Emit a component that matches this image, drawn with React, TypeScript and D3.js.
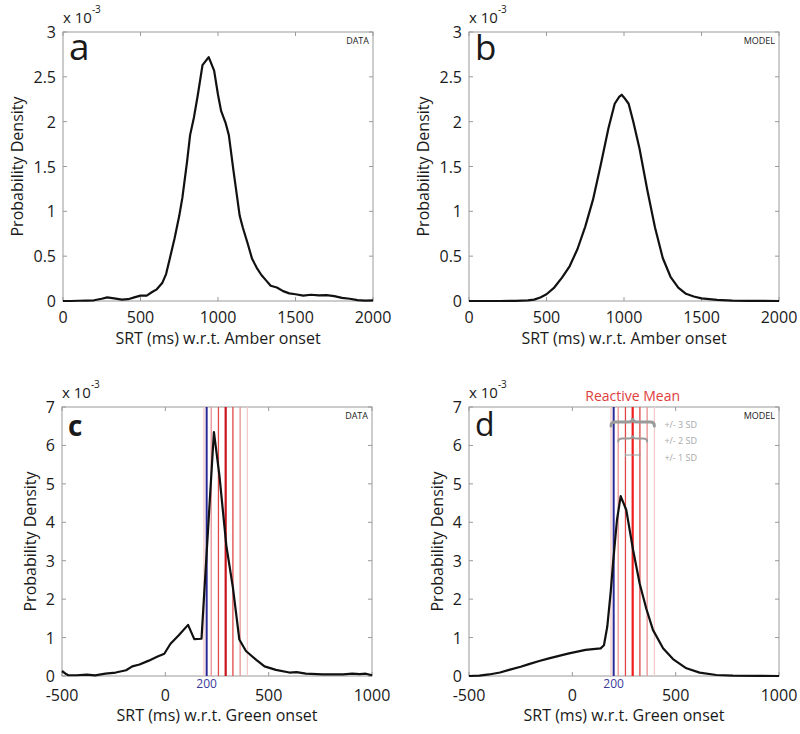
import React from "react";
import * as d3 from "d3";

// ---------- DATA ----------
// Panel a (DATA, amber onset) – SRT ms / density ×1e-3
const aX = [0, 50, 100, 150, 200, 250, 285, 330, 380, 420, 460, 500, 540, 575, 605, 640, 665, 690, 720, 750, 770, 800, 820, 845, 870, 900, 940, 975, 1000, 1020, 1050, 1070, 1100, 1140, 1160, 1190, 1220, 1250, 1280, 1310, 1340, 1380, 1420, 1460, 1500, 1550, 1600, 1650, 1700, 1750, 1800, 1850, 1900, 1950, 2000];
const aY = [0, 0, 0.003, 0.005, 0.008, 0.025, 0.04, 0.03, 0.015, 0.02, 0.04, 0.06, 0.06, 0.1, 0.13, 0.2, 0.3, 0.48, 0.7, 0.95, 1.15, 1.55, 1.85, 2.05, 2.3, 2.63, 2.72, 2.57, 2.3, 2.12, 1.98, 1.85, 1.45, 0.95, 0.82, 0.65, 0.47, 0.37, 0.29, 0.23, 0.17, 0.15, 0.11, 0.085, 0.075, 0.06, 0.07, 0.062, 0.065, 0.055, 0.035, 0.025, 0.01, 0.005, 0.008];

// Panel b (MODEL, amber onset)
const bX = [0, 100, 200, 300, 380, 420, 460, 500, 550, 600, 650, 700, 750, 800, 850, 900, 940, 970, 985, 1000, 1030, 1060, 1100, 1150, 1200, 1250, 1300, 1350, 1400, 1450, 1500, 1600, 1700, 1800, 1900, 2000];
const bY = [0, 0, 0, 0.002, 0.006, 0.015, 0.04, 0.075, 0.15, 0.26, 0.39, 0.58, 0.83, 1.13, 1.52, 1.93, 2.2, 2.28, 2.3, 2.27, 2.2, 2.0, 1.7, 1.24, 0.82, 0.48, 0.27, 0.15, 0.08, 0.05, 0.03, 0.012, 0.005, 0.002, 0.001, 0];

// Panel c (DATA, green onset)
const cX = [-500, -480, -470, -430, -380, -340, -290, -240, -190, -160, -125, -80, -40, -5, 25, 65, 110, 140, 175, 235, 262, 295, 327, 358, 390, 440, 480, 535, 600, 635, 680, 760, 860, 905, 940, 970, 1000];
const cY = [0.13, 0.05, 0.02, 0.02, 0.035, 0.015, 0.06, 0.09, 0.15, 0.25, 0.3, 0.4, 0.5, 0.58, 0.84, 1.06, 1.33, 0.96, 0.97, 6.35, 5.2, 3.4, 2.3, 0.95, 0.65, 0.42, 0.25, 0.16, 0.09, 0.1, 0.06, 0.04, 0.04, 0.06, 0.05, 0.06, 0.02];

// Panel d (MODEL, green onset)
const dX = [-500, -450, -403, -350, -306, -250, -210, -160, -113, -60, -16, 30, 64, 100, 137, 153, 169, 185, 198, 216, 234, 261, 294, 326, 358, 390, 439, 487, 552, 616, 697, 777, 900, 1000];
const dY = [0, 0.01, 0.04, 0.09, 0.16, 0.24, 0.31, 0.39, 0.46, 0.53, 0.59, 0.64, 0.68, 0.7, 0.72, 0.8, 1.28, 2.15, 3.0, 4.06, 4.68, 4.32, 3.28, 2.4, 1.75, 1.2, 0.72, 0.44, 0.2, 0.087, 0.026, 0.009, 0.002, 0];

const amberTicksX = [0, 500, 1000, 1500, 2000];
const amberTicksY = [0, 0.5, 1, 1.5, 2, 2.5, 3];
const greenTicksX = [-500, 0, 500, 1000];
const greenTicksY = [0, 1, 2, 3, 4, 5, 6, 7];

const reactiveMean = 292;
const reactiveSD = 35;
const blueLine = 200;
const sdLevels = [-3, -2, -1, 0, 1, 2, 3];
const braceLevels = [3, 2, 1];

const FONT = "'Open Sans', 'Noto Sans', sans-serif";

type PanelProps = {
  letter: string;
  letterSize: number;
  letterWeight?: number;
  x0: number;
  y0: number;
  w: number;
  h: number;
  xs: number[];
  ys: number[];
  xDomain: [number, number];
  yDomain: [number, number];
  xTicks: number[];
  yTicks: number[];
  xLabel: string;
  tag: string;
  yLabelOff: number;
  tickOff: number;
  xLabelOff: number;
  markers?: boolean;
  braces?: boolean;
  meanColor?: string;
};

function bracePath(x1: number, x2: number, y: number, h: number) {
  const xm = (x1 + x2) / 2;
  const r = Math.min(4, (x2 - x1) / 6);
  return `M${x1},${y + h} Q${x1},${y} ${x1 + r},${y} L${xm - r},${y} Q${xm},${y} ${xm},${y - h} Q${xm},${y} ${xm + r},${y} L${x2 - r},${y} Q${x2},${y} ${x2},${y + h}`;
}

function Panel(p: PanelProps) {
  const x = d3.scaleLinear().domain(p.xDomain).range([p.x0, p.x0 + p.w]);
  const y = d3.scaleLinear().domain(p.yDomain).range([p.y0 + p.h, p.y0]);
  const pts = p.xs.map((v, i) => [v, p.ys[i]] as [number, number]);
  const line = d3.line<[number, number]>().x((d) => x(d[0])).y((d) => y(d[1]));
  const tl = 4;
  const axisGray = "#9a9a9a";
  const sdColor = (k: number) => {
    const a = Math.abs(k);
    if (a === 0) return p.meanColor || "#d41a1a";
    if (a === 1) return "#e04848";
    if (a === 2) return "#ea9090";
    return "#f4caca";
  };
  return (
    <g fontFamily={FONT}>
      {/* box */}
      <rect x={p.x0} y={p.y0} width={p.w} height={p.h} fill="none" stroke={axisGray} strokeWidth={1} />
      {p.xTicks.map((t) => (
        <g key={"xt" + t}>
          <line x1={x(t)} x2={x(t)} y1={p.y0 + p.h} y2={p.y0 + p.h - tl} stroke={axisGray} />
          <line x1={x(t)} x2={x(t)} y1={p.y0} y2={p.y0 + tl} stroke={axisGray} />
          <text x={x(t)} y={p.y0 + p.h + p.tickOff} textAnchor="middle" dominantBaseline="central" fontSize={16} fill="#1a1a1a">
            {t}
          </text>
        </g>
      ))}
      {p.yTicks.map((t) => (
        <g key={"yt" + t}>
          <line x1={p.x0} x2={p.x0 + tl} y1={y(t)} y2={y(t)} stroke={axisGray} />
          <line x1={p.x0 + p.w} x2={p.x0 + p.w - tl} y1={y(t)} y2={y(t)} stroke={axisGray} />
          <text x={p.x0 - 7} y={y(t)} textAnchor="end" dominantBaseline="central" fontSize={16} fill="#1a1a1a">
            {t}
          </text>
        </g>
      ))}
      {/* exponent */}
      <text x={p.x0} y={p.y0 - 9} fontSize={15} fill="#1a1a1a">
        x 10
        <tspan dy={-10} fontSize={10}>-3</tspan>
      </text>
      {/* axis labels */}
      <text
        transform={`translate(${p.x0 - p.yLabelOff},${p.y0 + p.h / 2}) rotate(-90)`}
        textAnchor="middle"
        dominantBaseline="central"
        fontSize={16}
        fill="#1a1a1a"
      >
        Probability Density
      </text>
      <text x={p.x0 + p.w / 2} y={p.y0 + p.h + p.xLabelOff} textAnchor="middle" dominantBaseline="central" fontSize={16} fill="#1a1a1a">
        {p.xLabel}
      </text>
      {/* letter and tag */}
      <text x={p.x0 + 6} y={p.y0 + (p.letter === "a" || p.letter === "b" ? 28 : 29)} fontSize={p.letterSize} fontWeight={p.letterWeight || 400} fill="#1a1a1a">
        {p.letter}
      </text>
      <text x={p.x0 + p.w - 4} y={p.y0 + 12} textAnchor="end" fontSize={9} fill="#222">
        {p.tag}
      </text>
      {/* reactive markers */}
      {p.markers && (
        <g>
          {sdLevels
            .slice()
            .sort((a, b) => Math.abs(b) - Math.abs(a))
            .map((k) => (
              <line
                key={"sd" + k}
                x1={x(reactiveMean + k * reactiveSD)}
                x2={x(reactiveMean + k * reactiveSD)}
                y1={p.y0}
                y2={p.y0 + p.h}
                stroke={sdColor(k)}
                strokeWidth={k === 0 ? 2.2 : 1.3}
              />
            ))}
          <line x1={x(blueLine)} x2={x(blueLine)} y1={p.y0} y2={p.y0 + p.h} stroke="#2a2a96" strokeWidth={2} />
          <text x={x(blueLine)} y={p.y0 + p.h + 7} textAnchor="middle" dominantBaseline="central" fontSize={12} fill="#3a3a9a">
            {blueLine}
          </text>
        </g>
      )}
      {p.braces && (
        <g>
          <text x={x(reactiveMean)} y={p.y0 - 6} textAnchor="middle" fontSize={14} fill="#e03c3c">
            Reactive Mean
          </text>
          {braceLevels.map((k, i) => {
            const x1 = x(reactiveMean - k * reactiveSD);
            const x2 = x(reactiveMean + k * reactiveSD);
            const yy = p.y0 + 15 + i * 16.5;
            const textX = x(reactiveMean + 3 * reactiveSD) + 10;
            return (
              <g key={"br" + k}>
                {k > 1 ? (
                  <path d={bracePath(x1, x2, yy, k === 3 ? 4 : 3)} fill="none" stroke="#9a9a9a" strokeWidth={k === 3 ? 3 : 2} strokeLinecap="round" />
                ) : (
                  <g stroke="#9a9a9a" strokeWidth={1}>
                    <line x1={x1} x2={x2} y1={yy} y2={yy} />
                    <line x1={x1} x2={x1} y1={yy - 2} y2={yy + 2} />
                    <line x1={x2} x2={x2} y1={yy - 2} y2={yy + 2} />
                  </g>
                )}
                <text x={textX} y={yy + 2} dominantBaseline="central" fontSize={9} fill="#a8a8a8">
                  {`+/- ${k} SD`}
                </text>
              </g>
            );
          })}
        </g>
      )}
      {/* curve */}
      <path d={line(pts) || ""} fill="none" stroke="#111" strokeWidth={2.2} strokeLinejoin="round" />
    </g>
  );
}

export default function App() {
  return (
    <svg width={800} height={734} style={{ position: "absolute", left: 0, top: 0, background: "#fff" }}>
      <rect x={0} y={0} width={800} height={734} fill="#fff" />
      <Panel letter="a" letterSize={37} x0={63} y0={32} w={310} h={269} xs={aX} ys={aY} xDomain={[0, 2000]} yDomain={[0, 3]} xTicks={amberTicksX} yTicks={amberTicksY} xLabel="SRT (ms) w.r.t. Amber onset" tag="DATA" yLabelOff={46} tickOff={16} xLabelOff={37} />
      <Panel letter="b" letterSize={35} x0={469} y0={32} w={310} h={269} xs={bX} ys={bY} xDomain={[0, 2000]} yDomain={[0, 3]} xTicks={amberTicksX} yTicks={amberTicksY} xLabel="SRT (ms) w.r.t. Amber onset" tag="MODEL" yLabelOff={46} tickOff={16} xLabelOff={37} />
      <Panel letter="c" letterSize={28} letterWeight={700} x0={62} y0={407} w={310} h={269} xs={cX} ys={cY} xDomain={[-500, 1000]} yDomain={[0, 7]} xTicks={greenTicksX} yTicks={greenTicksY} xLabel="SRT (ms) w.r.t. Green onset" tag="DATA" yLabelOff={32} tickOff={19} xLabelOff={39} markers meanColor="#c8141a" />
      <Panel letter="d" letterSize={32} x0={469} y0={407} w={310} h={269} xs={dX} ys={dY} xDomain={[-500, 1000]} yDomain={[0, 7]} xTicks={greenTicksX} yTicks={greenTicksY} xLabel="SRT (ms) w.r.t. Green onset" tag="MODEL" yLabelOff={32} tickOff={19} xLabelOff={39} markers braces meanColor="#ee1c1c" />
    </svg>
  );
}
